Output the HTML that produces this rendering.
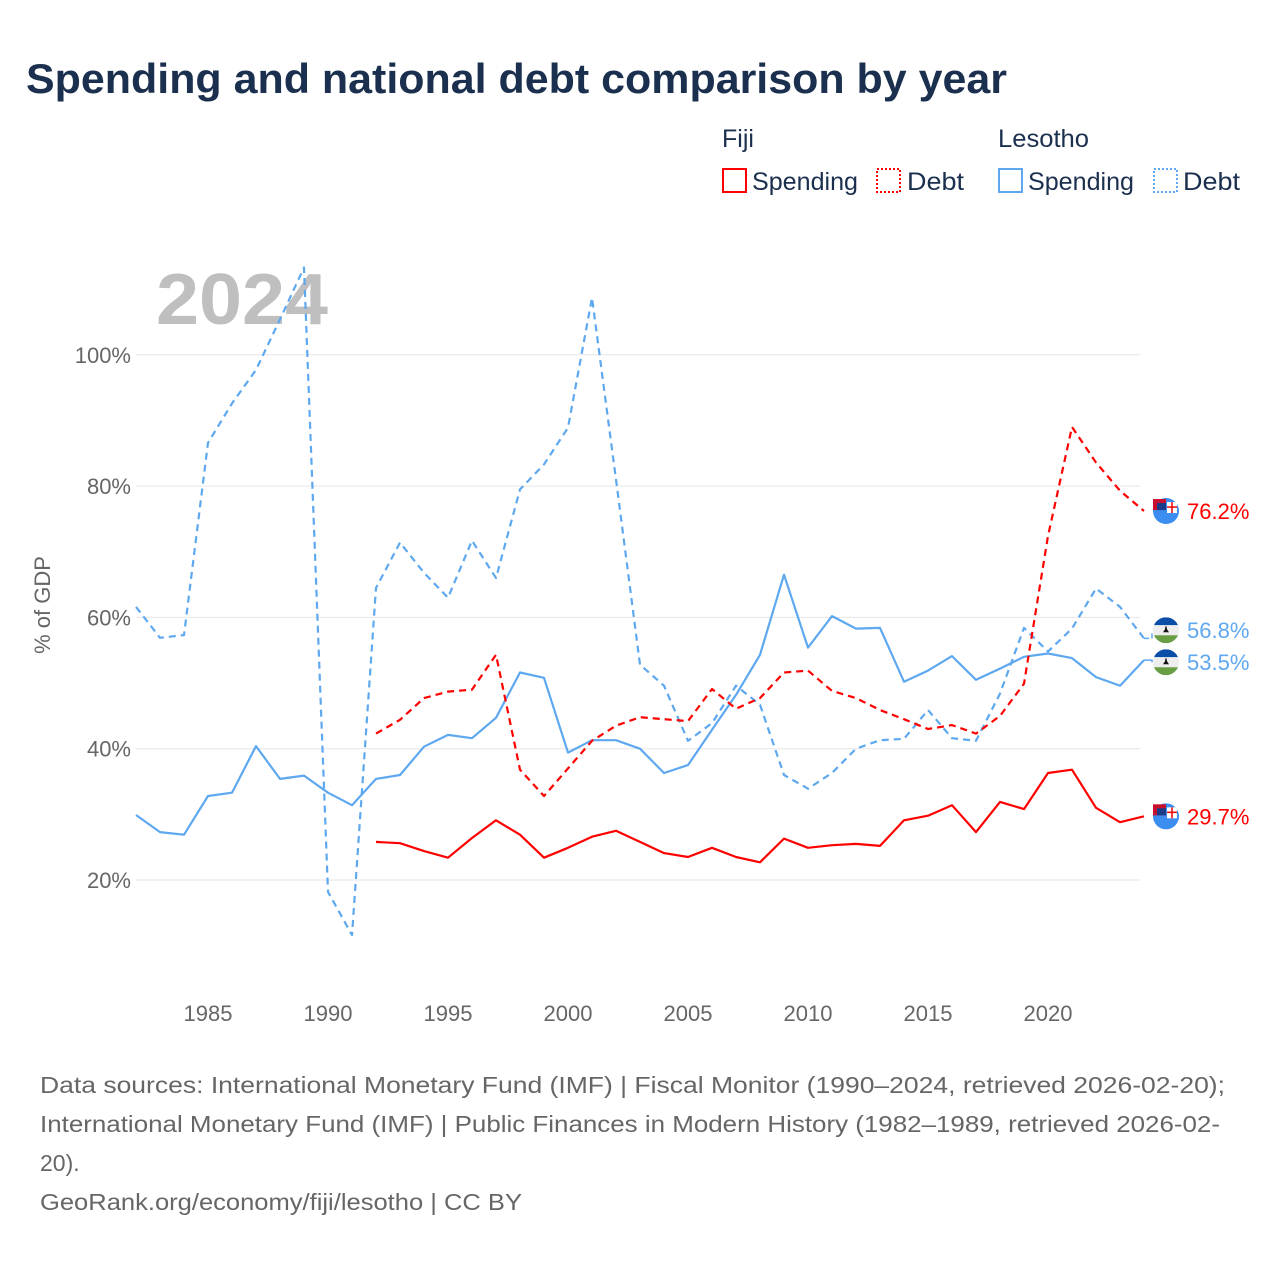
<!DOCTYPE html>
<html><head><meta charset="utf-8"><style>
html,body{margin:0;padding:0;background:#fff;}
svg{display:block;font-family:"Liberation Sans",sans-serif;}
</style></head><body>
<svg id="chart" width="1280" height="1280" viewBox="0 0 1280 1280" xmlns="http://www.w3.org/2000/svg">
<rect width="1280" height="1280" fill="#fff"/>
<text x="26" y="93" font-size="42" font-weight="bold" fill="#1b2f4e" textLength="981" lengthAdjust="spacingAndGlyphs">Spending and national debt comparison by year</text>
<g fill="#1b2f4e" font-size="25">
<text x="722" y="147">Fiji</text>
<text x="998" y="147" textLength="91" lengthAdjust="spacingAndGlyphs">Lesotho</text>
<g><rect x="723" y="169" width="23" height="23" fill="none" stroke="#f00" stroke-width="2"/><text x="752" y="190" textLength="106" lengthAdjust="spacingAndGlyphs">Spending</text></g>
<g><rect x="877" y="169" width="23" height="23" fill="none" stroke="#f00" stroke-width="2" stroke-dasharray="2,2"/><text x="907" y="190" textLength="57" lengthAdjust="spacingAndGlyphs">Debt</text></g>
<g><rect x="999" y="169" width="23" height="23" fill="none" stroke="#5ea8ef" stroke-width="2"/><text x="1028" y="190" textLength="106" lengthAdjust="spacingAndGlyphs">Spending</text></g>
<g><rect x="1154" y="169" width="23" height="23" fill="none" stroke="#5ea8ef" stroke-width="2" stroke-dasharray="2,2"/><text x="1183" y="190" textLength="57" lengthAdjust="spacingAndGlyphs">Debt</text></g>
</g>
<g id="grid"></g>
<g id="yticks" font-size="22" fill="#666" text-anchor="end"></g>
<g id="xticks" font-size="22" fill="#666" text-anchor="middle"></g>
<text transform="translate(50,605) rotate(-90)" font-size="22" fill="#666" text-anchor="middle">% of GDP</text>
<text x="156" y="324" font-size="72" font-weight="bold" fill="#bfbfbf" textLength="172" lengthAdjust="spacingAndGlyphs">2024</text>
<g id="series"></g>
<g id="ends"></g>
<g font-size="23" fill="#666">
<text x="40" y="1093" textLength="1185" lengthAdjust="spacingAndGlyphs">Data sources: International Monetary Fund (IMF) | Fiscal Monitor (1990–2024, retrieved 2026-02-20);</text>
<text x="40" y="1132" textLength="1180" lengthAdjust="spacingAndGlyphs">International Monetary Fund (IMF) | Public Finances in Modern History (1982–1989, retrieved 2026-02-</text>
<text x="40" y="1171">20).</text>
<text x="40" y="1210" textLength="482" lengthAdjust="spacingAndGlyphs">GeoRank.org/economy/fiji/lesotho | CC BY</text>
</g>
</svg>
<script>
const lesothoStart = 1982;
const fijiStart = 1992;
const lesothoDebt = [61.6,56.9,57.3,86.6,92.6,97.7,105.4,113.3,18.2,11.6,64.5,71.4,66.8,63,71.7,66,79.5,83.3,88.9,108.7,81,52.8,49.6,41.2,43.9,49.6,46.7,36,33.9,36.3,40,41.3,41.5,45.9,41.6,41.2,48.4,58.4,54.8,58.3,64.4,61.6,56.8];
const lesothoSpending = [29.9,27.3,26.9,32.8,33.3,40.4,35.4,35.9,33.3,31.4,35.4,36,40.3,42.1,41.6,44.7,51.6,50.8,39.4,41.3,41.3,40,36.3,37.5,42.9,48.2,54.3,66.5,55.4,60.2,58.3,58.4,50.2,51.9,54.1,50.5,52.2,54,54.5,53.8,50.9,49.6,53.5];
const fijiSpending = [25.8,25.6,24.4,23.4,26.4,29.1,26.9,23.4,24.9,26.6,27.5,25.8,24.1,23.5,24.9,23.5,22.7,26.3,24.9,25.3,25.5,25.2,29.1,29.8,31.4,27.3,31.9,30.8,36.3,36.8,31,28.8,29.7];
const fijiDebt = [42.3,44.4,47.7,48.7,49,54.3,36.8,32.8,37,41.2,43.5,44.8,44.5,44.2,49.1,46.1,47.7,51.6,51.9,48.8,47.7,45.9,44.5,43,43.6,42.3,45,49.9,72.4,89,83.6,79.3,76.2];
const yTicks = [20,40,60,80,100];
const xTicks = [1985,1990,1995,2000,2005,2010,2015,2020];

const NS = "http://www.w3.org/2000/svg";
function xs(year){ return 136 + (year - 1982) * 24; }
function ys(v){ return 880 - (v - 20) * 6.565; }
function mk(tag, attrs, parent){ const e = document.createElementNS(NS, tag); for (const k in attrs) e.setAttribute(k, attrs[k]); parent.appendChild(e); return e; }

const grid = document.getElementById('grid'), yt = document.getElementById('yticks'), xt = document.getElementById('xticks');
yTicks.forEach(v => {
  const l = mk('line', {x1:136, x2:1140, y1:ys(v), y2:ys(v), stroke:'#e6e6e6', 'stroke-width':1}, grid);
  
  
  const t = mk('text', {x:131, y:ys(v)+8}, yt);
  
  
  t.textContent = v + '%';
});
xTicks.forEach(y => {
  const t = mk('text', {x:xs(y), y:1021}, xt);
  
  
  t.textContent = y;
});

const series = document.getElementById('series');
function drawLine(vals, start, color, dashed, name){
  const pts = vals.map((v,i) => xs(start+i).toFixed(1) + ',' + ys(v).toFixed(1)).join(' ');
  const p = mk('polyline', {points:pts, fill:'none', stroke:color, 'stroke-width':2.2, 'stroke-linejoin':'round'}, series);
  if (dashed) p.setAttribute('stroke-dasharray', '7,5');
  
  
}
drawLine(lesothoDebt, lesothoStart, '#5ea8ef', true, 'lesotho-debt-line');
drawLine(lesothoSpending, lesothoStart, '#5ea8ef', false, 'lesotho-spending-line');
drawLine(fijiDebt, fijiStart, '#f00', true, 'fiji-debt-line');
drawLine(fijiSpending, fijiStart, '#f00', false, 'fiji-spending-line');

const ends = document.getElementById('ends');
function fijiFlag(cy, name){
  const cx = 1166;
  const g = mk('g', {}, ends);
  
  
  mk('circle', {cx:cx, cy:cy, r:13, fill:'#3b8def'}, g);
  mk('rect', {x:cx-13, y:cy-12, width:13, height:11, fill:'#c8102e'}, g);
  mk('rect', {x:cx-9, y:cy-8, width:9, height:7, fill:'#1a3a8a'}, g);
  mk('rect', {x:cx+1, y:cy-9, width:10, height:11, fill:'#fff'}, g);
  mk('line', {x1:cx+6, x2:cx+6, y1:cy-9, y2:cy+2, stroke:'#e00', 'stroke-width':1.5}, g);
  mk('line', {x1:cx+1, x2:cx+11, y1:cy-4, y2:cy-4, stroke:'#e00', 'stroke-width':1.5}, g);
}
function lesFlag(cy, name){
  const cx = 1166;
  const g = mk('g', {}, ends);
  
  
  mk('clipPath', {id:'c'+name}, g);
  const cp = g.lastChild; mk('circle', {cx:cx, cy:cy, r:13}, cp);
  const h = mk('g', {'clip-path':'url(#c'+name+')'}, g);
  mk('rect', {x:cx-13, y:cy-13, width:26, height:8, fill:'#0a4ea8'}, h);
  mk('rect', {x:cx-13, y:cy-5, width:26, height:10, fill:'#eee'}, h);
  mk('rect', {x:cx-13, y:cy+5, width:26, height:8, fill:'#6a9e45'}, h);
  mk('path', {d:`M${cx-3} ${cy+2} L${cx+3} ${cy+2} L${cx+1} ${cy-1} L${cx+0.5} ${cy-4} L${cx-0.5} ${cy-4} L${cx-1} ${cy-1} Z`, fill:'#111'}, h);
}
function endLabel(cy, v, color, name){
  const t = mk('text', {x:1187, y:cy+8, 'font-size':22, fill:color}, ends);
  
  
  t.textContent = v.toFixed(1) + '%';
}
function connector(v, cy, color, dashed, name){
  const l = mk('polyline', {points:`${xs(2024)},${ys(v)} 1152,${ys(v)} 1152,${cy}`, fill:'none', stroke:color, 'stroke-width':1.5}, ends);
  if (dashed) l.setAttribute('stroke-dasharray', '5,3');
  
  
}
const fd = fijiDebt[fijiDebt.length-1], fs = fijiSpending[fijiSpending.length-1];
const ld = lesothoDebt[lesothoDebt.length-1], ls = lesothoSpending[lesothoSpending.length-1];
// label positions spread apart to avoid overlap
let ldY = ys(ld), lsY = ys(ls);
if (lsY - ldY < 31) { const mid = (ldY + lsY) / 2 - 3; ldY = mid - 16; lsY = mid + 16; }
connector(ld, ldY, '#5ea8ef', true, 'lesotho-debt-connector');
connector(ls, lsY, '#5ea8ef', false, 'lesotho-spending-connector');
fijiFlag(ys(fd), 'fiji-debt-flag'); fijiFlag(ys(fs), 'fiji-spending-flag');
lesFlag(ldY, 'lesotho-debt-flag'); lesFlag(lsY, 'lesotho-spending-flag');
endLabel(ys(fd), fd, '#f00', 'fiji-debt-end-label');
endLabel(ys(fs), fs, '#f00', 'fiji-spending-end-label');
endLabel(ldY, ld, '#5ea8ef', 'lesotho-debt-end-label');
endLabel(lsY, ls, '#5ea8ef', 'lesotho-spending-end-label');
</script>
</body></html>
